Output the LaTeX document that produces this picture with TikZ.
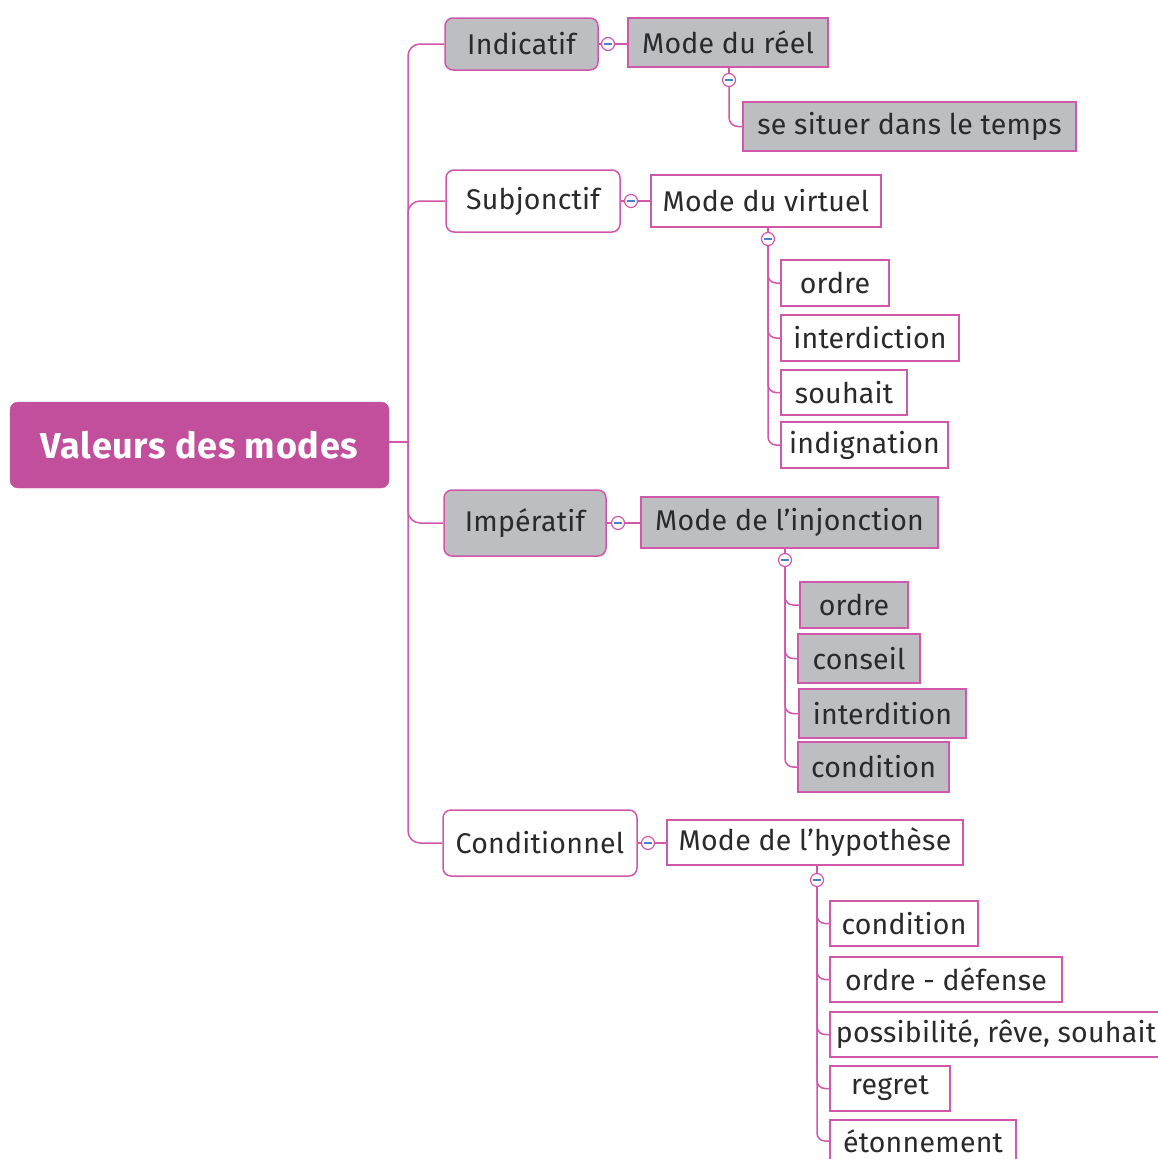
\documentclass[tikz,border=0pt]{standalone}
\usepackage{fontspec}
\setmainfont{Fira Sans}
\definecolor{pk}{HTML}{D057A9}
\definecolor{rootc}{HTML}{C24F9C}
\definecolor{gr}{HTML}{BDBEC2}
\definecolor{tx}{HTML}{2A2A2C}
\definecolor{bl}{HTML}{4A7FD0}
\tikzset{
 conn/.style={draw=pk, line width=1.5pt},
 box/.style={draw=pk, line width=1.5pt, text=tx, font=\fontsize{28.5}{32}\selectfont\addfontfeature{LetterSpace=0.8}, inner sep=0pt},
 gbox/.style={box, fill=gr},
 wbox/.style={box, fill=white},
 rbox/.style={rounded corners=8pt},
 tog/.style={circle, draw=pk, fill=white, line width=1.2pt, minimum size=13pt, inner sep=0pt,
   path picture={\draw[bl, line width=1.4pt] ([xshift=-3.8pt]path picture bounding box.center) -- ([xshift=3.8pt]path picture bounding box.center);}},
 rootbox/.style={fill=rootc, draw=rootc, rounded corners=8pt, text=white, font=\bfseries\fontsize{36}{40}\selectfont\addfontfeature{LetterSpace=2}, inner sep=0pt},
}
\begin{document}
\begin{tikzpicture}[x=1pt,y=-1pt]
\useasboundingbox (0,0) rectangle (1158,1159);
% root
\node[rootbox, minimum width=379pt, minimum height=86pt] (root) at (199.5,445) {Valeurs des modes};
\coordinate (t) at (408,442);
% level 1
\node[gbox, rbox, minimum width=153pt, minimum height=52pt] (ind) at (521.5,44) {Indicatif};
\node[wbox, rbox, minimum width=174pt, minimum height=62pt] (sub) at (533,201) {Subjonctif};
\node[gbox, rbox, minimum width=162pt, minimum height=66pt] (imp) at (525,523) {Impératif};
\node[wbox, rbox, minimum width=194pt, minimum height=66pt] (con) at (540,843) {Conditionnel};
\draw[conn] (root.east |- t) -- (t);
\draw[conn, rounded corners=12pt] (t) |- (ind.west);
\draw[conn, rounded corners=12pt] (t) |- (sub.west);
\draw[conn, rounded corners=12pt] (t) |- (imp.west);
\draw[conn, rounded corners=12pt] (t) |- (con.west);
% Indicatif branch
\node[gbox, minimum width=200pt, minimum height=49pt] (mr) at (728,42.5) {Mode du réel};
\node[gbox, minimum width=333pt, minimum height=49pt] (sit) at (909.5,126.5) {se situer dans le temps};
\node[tog] (t1) at (608,44) {};
\node[tog] (t1b) at (729,80) {};
\draw[conn] (ind.east |- t1) -- (t1.west);
\draw[conn] (t1.east) -- (t1 -| mr.west);
\draw[conn] (t1b |- mr.south) -- (t1b.north);
\draw[conn, rounded corners=9pt] (t1b.south) |- (sit.west);
% Subjonctif branch
\node[wbox, minimum width=230pt, minimum height=52pt] (mv) at (766,201) {Mode du virtuel};
\node[tog] (t2) at (631,201) {};
\node[tog] (t2b) at (768,239) {};
\node[wbox, minimum width=108pt, minimum height=46pt] (s1) at (835,283) {ordre};
\node[wbox, minimum width=178pt, minimum height=46pt] (s2) at (870,338) {interdiction};
\node[wbox, minimum width=126pt, minimum height=45pt] (s3) at (844,392.5) {souhait};
\node[wbox, minimum width=167pt, minimum height=46pt] (s4) at (864.5,445) {indignation};
\draw[conn] (sub.east |- t2) -- (t2.west);
\draw[conn] (t2.east) -- (mv.west);
\draw[conn] (t2b |- mv.south) -- (t2b.north);
\foreach \n in {s1,s2,s3,s4}{\draw[conn, rounded corners=8pt] (t2b.south) |- (\n.west);}
% Imperatif branch
\node[gbox, minimum width=297pt, minimum height=51pt] (mi) at (789.5,522.5) {Mode de l’injonction};
\node[tog] (t3) at (618,523) {};
\node[tog] (t3b) at (785,560) {};
\node[gbox, minimum width=108pt, minimum height=46pt] (i1) at (854,605) {ordre};
\node[gbox, minimum width=122pt, minimum height=49pt] (i2) at (859,658.5) {conseil};
\node[gbox, minimum width=167pt, minimum height=49pt] (i3) at (882.5,713.5) {interdition};
\node[gbox, minimum width=151pt, minimum height=50pt] (i4) at (873.5,767) {condition};
\draw[conn] (imp.east |- t3) -- (t3.west);
\draw[conn] (t3.east) -- (t3 -| mi.west);
\draw[conn] (t3b |- mi.south) -- (t3b.north);
\foreach \n in {i1,i2,i3,i4}{\draw[conn, rounded corners=8pt] (t3b.south) |- (\n.west);}
% Conditionnel branch
\node[wbox, minimum width=296pt, minimum height=45pt] (mh) at (815,842.5) {Mode de l’hypothèse};
\node[tog] (t4) at (648,843) {};
\node[tog] (t4b) at (817,880) {};
\node[wbox, minimum width=148pt, minimum height=45pt] (c1) at (904,923.5) {condition};
\node[wbox, minimum width=232pt, minimum height=45pt] (c2) at (946,979.5) {ordre - défense};
\node[wbox, minimum width=332pt, minimum height=45pt] (c3) at (996,1034.5) {possibilité, rêve, souhait};
\node[wbox, minimum width=120pt, minimum height=45pt] (c4) at (890,1088.5) {regret};
\node[wbox, minimum width=186pt, minimum height=42pt] (c5) at (923,1141) {étonnement};
\draw[conn] (con.east |- t4) -- (t4.west);
\draw[conn] (t4.east) -- (t4 -| mh.west);
\draw[conn] (t4b |- mh.south) -- (t4b.north);
\foreach \n in {c1,c2,c3,c4,c5}{\draw[conn, rounded corners=8pt] (t4b.south) |- (\n.west);}
\end{tikzpicture}
\end{document}
